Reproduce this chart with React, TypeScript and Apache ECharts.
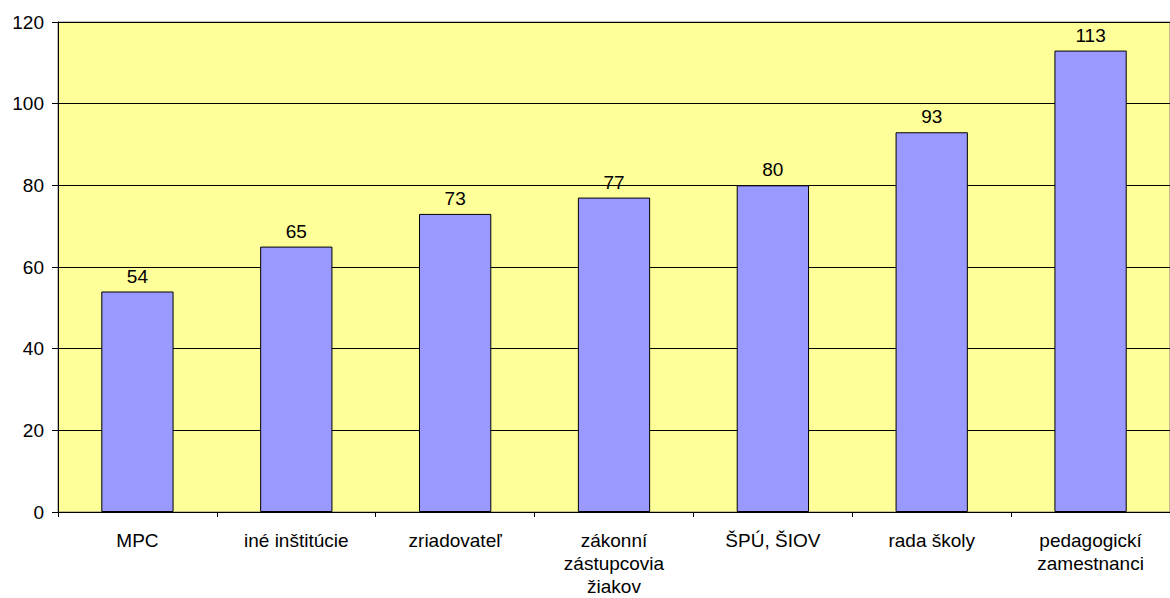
import React, { useEffect, useRef } from "react";
import * as echarts from "echarts";

const categories = [
  "MPC",
  "iné inštitúcie",
  "zriadovateľ",
  "zákonní\nzástupcovia\nžiakov",
  "ŠPÚ, ŠIOV",
  "rada školy",
  "pedagogickí\nzamestnanci",
];
const values = [54, 65, 73, 77, 80, 93, 113];
const yTicks = { min: 0, max: 120, interval: 20 };

export default function App() {
  const ref = useRef<HTMLDivElement>(null);
  useEffect(() => {
    if (!ref.current) return;
    const chart = echarts.init(ref.current, null, { renderer: "svg" });
    const font = "Arial, 'Liberation Sans', sans-serif";
    chart.setOption({
      animation: false,
      grid: {
        left: 58,
        top: 22,
        width: 1124,
        height: 495,
        show: true,
        backgroundColor: "#FFFF99",
        borderColor: "#808080",
        borderWidth: 1,
      },
      xAxis: {
        type: "category",
        data: categories,
        axisLine: { show: true, lineStyle: { color: "#000", width: 1 } },
        axisTick: { show: true, length: 5, lineStyle: { color: "#000" } },
        axisLabel: {
          color: "#000",
          fontFamily: font,
          fontSize: 19,
          lineHeight: 23,
          margin: 17,
          interval: 0,
        },
      },
      yAxis: {
        type: "value",
        min: yTicks.min,
        max: yTicks.max,
        interval: yTicks.interval,
        axisLine: { show: true, lineStyle: { color: "#000", width: 1 } },
        axisTick: { show: true, length: 6, lineStyle: { color: "#000" } },
        splitLine: { show: true, lineStyle: { color: "#000", width: 1 } },
        axisLabel: {
          color: "#000",
          fontFamily: font,
          fontSize: 19,
          margin: 14,
        },
      },
      series: [
        {
          type: "bar",
          data: values,
          barWidth: "45.5%",
          itemStyle: { color: "#9999FF", borderColor: "#000", borderWidth: 1 },
          label: {
            show: true,
            position: "top",
            distance: 6,
            color: "#000",
            fontFamily: font,
            fontSize: 19,
          },
        },
      ],
    });
    return () => chart.dispose();
  }, []);
  return (
    <div
      ref={ref}
      style={{ position: "fixed", left: 0, top: 0, width: 1170, height: 598, background: "#fff" }}
    />
  );
}
